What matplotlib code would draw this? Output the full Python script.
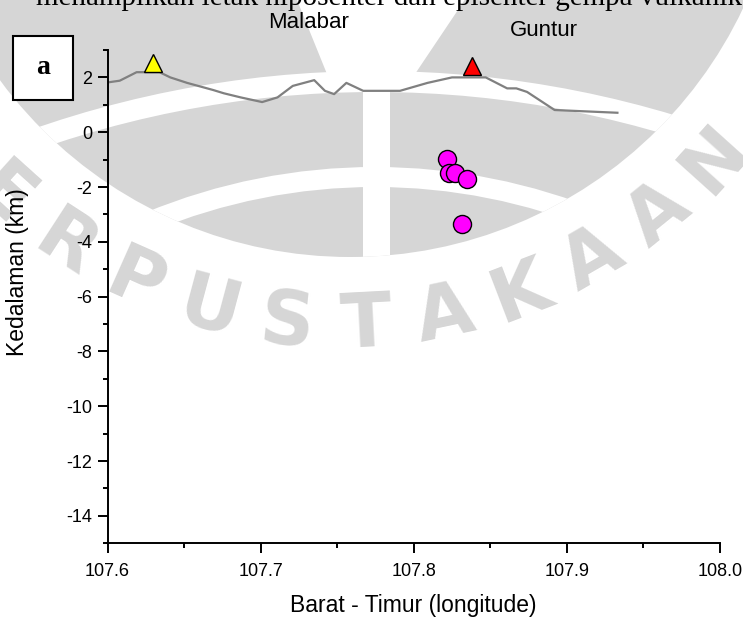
import numpy as np
import matplotlib
matplotlib.use("Agg")
import matplotlib.pyplot as plt
from matplotlib.patches import Rectangle, Circle, Wedge, Polygon
from matplotlib.ticker import MultipleLocator, FormatStrFormatter

plt.rcParams['font.family'] = ['Liberation Sans', 'DejaVu Sans']
plt.rcParams['axes.unicode_minus'] = False

# Topographic profile (longitude, elevation km)
profile_lon = [107.6005, 107.608, 107.619, 107.634, 107.641, 107.652, 107.669, 107.676,
               107.687, 107.701, 107.711, 107.721, 107.735, 107.742, 107.748, 107.756,
               107.767, 107.791, 107.809, 107.825, 107.847, 107.861, 107.867, 107.874,
               107.892, 107.933]
profile_elev = [1.82, 1.88, 2.19, 2.19, 2.00, 1.80, 1.54, 1.42,
                1.27, 1.10, 1.27, 1.69, 1.90, 1.51, 1.39, 1.80,
                1.51, 1.51, 1.80, 2.00, 2.00, 1.60, 1.60, 1.47,
                0.81, 0.71]

# Volcano summits
volcano_names = ["Malabar", "Guntur"]
volcano_lon = [107.630, 107.838]
volcano_elev = [2.51, 2.41]
volcano_colors = ["#ffff00", "#ff0000"]

# Hypocenters
quake_lon = [107.822, 107.8228, 107.8271, 107.8348, 107.8315]
quake_depth = [-0.96, -1.50, -1.47, -1.69, -3.35]

W, H = 743, 618
fig = plt.figure(figsize=(W / 100, H / 100), dpi=100)

# ---- faint library watermark of the scanned page (background, pixel coords) ----
WM = "#d6d6d6"
bg = fig.add_axes([0, 0, 1, 1], zorder=-10)
bg.set_xlim(0, W)
bg.set_ylim(H, 0)
bg.axis("off")
disk = Circle((350, -178), 435, facecolor=WM, edgecolor="none")
bg.add_patch(disk)
white_parts = [
    Polygon([(295, -5), (468, -5), (415, 74), (327, 74)], closed=True),
    Wedge((375, 1108), 1037, 0, 360, width=21),
    Wedge((375, 767), 600, 0, 360, width=20),
    Rectangle((363, 80), 27, 220),
]
for p in white_parts:
    p.set_facecolor("white")
    p.set_edgecolor("none")
    bg.add_patch(p)
    p.set_clip_path(disk)
wm_word = "PERPUSTAKAAN"
for i, ch in enumerate(wm_word):
    a = -51 + 9 * i
    ar = np.deg2rad(a)
    bg.text(340 + 505 * np.sin(ar), -178 + 505 * np.cos(ar), ch, rotation=a,
            rotation_mode="anchor", ha="center", va="center", fontsize=54,
            fontweight="bold", color=WM, family="DejaVu Sans")

# ---- the chart ----
ax = fig.add_axes([107.5 / W, (H - 543.3) / H, 612.5 / W, 493.3 / H])

ax.plot(profile_lon, profile_elev, color="#808080", lw=1.6, zorder=2)
for lon, el, c in zip(volcano_lon, volcano_elev, volcano_colors):
    ax.plot([lon], [el], marker="^", ms=13, mfc=c, mec="black", mew=1.0,
            linestyle="none", zorder=3)
ax.plot(quake_lon, quake_depth, marker="o", ms=13, mfc="#ff00ff", mec="black",
        mew=1.0, linestyle="none", zorder=4)

ax.set_xlim(107.6, 108.0)
ax.set_ylim(-15, 3)
ax.xaxis.set_major_locator(MultipleLocator(0.1))
ax.xaxis.set_minor_locator(MultipleLocator(0.05))
ax.xaxis.set_major_formatter(FormatStrFormatter('%.1f'))
ax.yaxis.set_major_locator(MultipleLocator(2))
ax.yaxis.set_minor_locator(MultipleLocator(1))
ax.yaxis.set_major_formatter(FormatStrFormatter('%d'))

for s in ["top", "right"]:
    ax.spines[s].set_visible(False)
for s in ["left", "bottom"]:
    ax.spines[s].set_linewidth(1.4)
ax.tick_params(which="major", direction="out", length=7, width=1.4, labelsize=13, pad=4)
ax.tick_params(which="minor", direction="out", length=3.6, width=1.4)
ax.tick_params(axis="x", which="major", pad=7)
ax.patch.set_alpha(0)

ax.set_xlabel("Barat - Timur (longitude)", fontsize=16.5)
ax.xaxis.set_label_coords(0.5, -0.102)
ax.set_ylabel("Kedalaman (km)", fontsize=16.5)
ax.yaxis.set_label_coords(-0.128, 0.55)

# Volcano names
fig.text(309 / W, (H - 28.3) / H, volcano_names[0], ha="center", va="baseline", fontsize=16)
fig.text(543.5 / W, (H - 36) / H, volcano_names[1], ha="center", va="baseline", fontsize=16)

# Panel box "a"
fig.patches.append(Rectangle((13 / W, (H - 100) / H), 60 / W, 64 / H, transform=fig.transFigure,
                             fill=True, facecolor="white", edgecolor="black", lw=1.5))
fig.text(43 / W, (H - 68) / H, "a", ha="center", va="center", fontsize=20,
         fontweight="bold", family=["Liberation Serif", "DejaVu Serif"])

# Cut-off caption line from the document page (clipped by the top edge in the reference)
fig.text(36 / W, (H - 5) / H, "menampilkan letak hiposenter dan episenter gempa vulkanik",
         ha="left", va="baseline", fontsize=21, family=["Liberation Serif", "DejaVu Serif"])

fig.savefig("out.png", dpi=100)
